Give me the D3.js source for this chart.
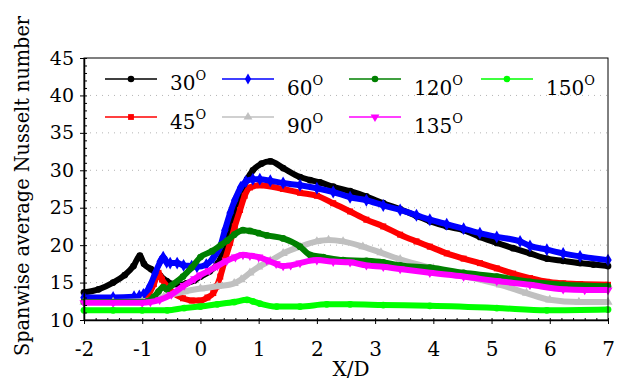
<!DOCTYPE html>
<html>
<head>
<meta charset="utf-8">
<script src="https://cdn.jsdelivr.net/npm/d3@7"></script>
<style>
  body { margin: 0; background: #fff; }
  text { font-family: "DejaVu Serif"; }
</style>
</head>
<body>
<div id="chart"></div>
<script>
// spanwise averaged Nu along X/D, one series per injection angle
var angles = ["30", "45", "60", "90", "120", "135", "150"];
var colors = ["#000000", "#ff0000", "#0000ff", "#c0c0c0", "#008000", "#ff00ff", "#00ff00"];

var x30 = [-2, -1.75, -1.5, -1.3, -1.15, -1.04, -0.97, -0.85, -0.69, -0.58, -0.47, -0.35, -0.24, -0.1, 0, 0.16, 0.3, 0.4, 0.5, 0.6, 0.7, 0.8, 0.9, 1.05, 1.2, 1.42, 1.71, 1.88, 2.05, 2.28, 2.57, 2.85, 3.14, 3.43, 3.71, 3.94, 4.23, 4.52, 4.8, 5.09, 5.37, 5.66, 5.95, 6.23, 6.52, 6.75, 7];
var nu30 = [13.7, 14.1, 15.0, 16.0, 17.2, 18.6, 17.5, 16.8, 15.9, 15.2, 14.8, 14.7, 14.9, 15.3, 15.8, 16.5, 17.6, 19.3, 22.0, 24.6, 26.9, 28.8, 30.0, 30.9, 31.2, 30.3, 29.1, 28.7, 28.4, 27.8, 27.2, 26.5, 25.6, 24.8, 23.9, 23.2, 22.5, 22.0, 21.1, 20.3, 19.6, 18.9, 18.2, 17.9, 17.6, 17.4, 17.2];

var x45 = [-2, -1.5, -1.0, -0.9, -0.8, -0.72, -0.66, -0.55, -0.45, -0.3, -0.15, 0, 0.12, 0.22, 0.28, 0.34, 0.42, 0.51, 0.59, 0.68, 0.76, 0.85, 1.02, 1.42, 1.71, 2.0, 2.28, 2.57, 2.85, 3.14, 3.43, 3.71, 3.94, 4.23, 4.52, 4.8, 5.09, 5.37, 5.66, 5.95, 6.23, 6.52, 7];
var nu45 = [12.7, 12.7, 12.8, 13.3, 14.8, 16.3, 15.4, 14.3, 13.5, 12.9, 12.6, 12.6, 13.0, 13.6, 14.5, 15.8, 18.0, 20.3, 22.5, 24.7, 26.6, 27.7, 28.0, 27.5, 27.0, 26.6, 25.6, 24.5, 23.4, 22.5, 21.4, 20.5, 19.8, 18.9, 18.2, 17.6, 16.9, 16.2, 15.6, 15.1, 14.9, 14.8, 14.7];

var x60 = [-2, -1.5, -1.14, -1.05, -0.98, -0.87, -0.78, -0.69, -0.64, -0.58, -0.52, -0.4, -0.29, -0.15, -0.06, 0.1, 0.22, 0.34, 0.42, 0.51, 0.59, 0.69, 0.78, 0.9, 1.02, 1.2, 1.42, 1.71, 2.0, 2.28, 2.57, 2.85, 3.14, 3.43, 3.71, 3.94, 4.23, 4.52, 4.8, 5.09, 5.49, 5.66, 5.95, 6.23, 6.52, 7];
var nu60 = [13.0, 13.0, 13.1, 13.2, 13.4, 14.5, 16.2, 17.8, 18.4, 17.7, 17.6, 17.6, 17.3, 17.2, 17.1, 17.4, 18.3, 19.8, 22.0, 24.3, 26.0, 27.7, 28.5, 28.8, 28.8, 28.6, 28.3, 28.0, 27.6, 27.1, 26.4, 26.0, 25.3, 24.7, 24.0, 23.4, 22.8, 22.2, 21.6, 21.1, 20.5, 19.9, 19.4, 18.9, 18.5, 18.0];

var x90 = [-2, -1.5, -1.0, -0.8, -0.63, -0.28, 0, 0.29, 0.58, 0.7, 0.85, 1.0, 1.2, 1.42, 1.71, 2.0, 2.2, 2.45, 2.79, 3.1, 3.43, 4.0, 4.58, 5.15, 5.6, 6.0, 6.5, 7];
var nu90 = [12.4, 12.4, 12.5, 12.7, 13.1, 13.8, 14.2, 14.5, 14.9, 15.4, 16.3, 17.1, 17.9, 18.9, 19.8, 20.5, 20.7, 20.5, 19.8, 19.0, 18.1, 16.9, 15.8, 14.7, 13.6, 12.7, 12.4, 12.4];

var x120 = [-2, -1.5, -1.0, -0.91, -0.8, -0.72, -0.64, -0.58, -0.5, -0.3, -0.15, 0, 0.2, 0.35, 0.46, 0.58, 0.73, 0.85, 1.0, 1.14, 1.42, 1.71, 1.88, 2.11, 2.45, 2.85, 3.14, 3.43, 3.94, 4.52, 5.09, 5.66, 6.23, 7];
var nu120 = [12.4, 12.4, 12.4, 12.5, 13.1, 13.8, 14.4, 14.1, 14.6, 15.8, 17.0, 18.4, 19.2, 20.0, 20.6, 21.4, 22.0, 21.9, 21.6, 21.3, 20.9, 19.8, 18.7, 18.4, 18.0, 17.9, 17.7, 17.3, 17.0, 16.3, 15.8, 15.1, 14.7, 14.5];

var x135 = [-2, -1.5, -1.0, -0.86, -0.7, -0.5, -0.28, -0.1, 0, 0.15, 0.29, 0.45, 0.6, 0.73, 0.85, 1.0, 1.14, 1.3, 1.42, 1.55, 1.71, 2.0, 2.28, 2.57, 2.85, 3.14, 3.43, 3.94, 4.52, 5.09, 5.66, 6.23, 6.6, 7];
var nu135 = [12.3, 12.3, 12.3, 12.4, 12.7, 13.4, 14.6, 15.5, 16.0, 16.6, 17.2, 17.9, 18.4, 18.7, 18.6, 18.4, 18.0, 17.5, 17.2, 17.3, 17.6, 18.0, 17.8, 17.7, 17.3, 17.1, 16.8, 16.3, 15.8, 15.2, 14.7, 14.1, 14.0, 14.0];

var x150 = [-2, -1.5, -1.0, -0.57, -0.28, 0, 0.29, 0.58, 0.8, 0.9, 1.02, 1.31, 1.71, 2.17, 2.57, 3.14, 3.94, 5.09, 5.95, 7];
var nu150 = [11.3, 11.3, 11.3, 11.3, 11.6, 11.8, 12.1, 12.4, 12.7, 12.5, 12.2, 11.8, 11.8, 12.1, 12.1, 12.0, 11.9, 11.6, 11.3, 11.4];

var xs = [x30, x45, x60, x90, x120, x135, x150];
var ys = [nu30, nu45, nu60, nu90, nu120, nu135, nu150];

var xTicks = [-2, -1, 0, 1, 2, 3, 4, 5, 6, 7];
var yTicks = [10, 15, 20, 25, 30, 35, 40, 45];

var W = 625, H = 380;
var pLeft = 84, pRight = 608, pTop = 58, pBottom = 320;

var svg = d3.select("#chart").append("svg")
  .attr("width", W)
  .attr("height", H);

var x = d3.scaleLinear().domain([-2, 7]).range([pLeft, pRight]);
var y = d3.scaleLinear().domain([10, 45]).range([pBottom, pTop]);

// dotted horizontal grid
svg.append("g")
  .selectAll("line")
  .data(yTicks.slice(1, -1))
  .enter().append("line")
    .attr("x1", pLeft)
    .attr("x2", pRight)
    .attr("y1", function(d){ return y(d); })
    .attr("y2", function(d){ return y(d); })
    .attr("stroke", "#b4b4b4")
    .attr("stroke-width", 1)
    .attr("stroke-dasharray", "1,5");

// symbol for each series
var symbols = [d3.symbolCircle, d3.symbolSquare, d3.symbolDiamond, d3.symbolTriangle,
               d3.symbolCircle, d3.symbolTriangle, d3.symbolCircle];
var flip = [0, 0, 0, 0, 0, 180, 0];

var line = d3.line().curve(d3.curveMonotoneX);

var plot = svg.append("g");

angles.forEach(function(a, i){
  var pts = xs[i].map(function(v, k){ return [x(v), y(ys[i][k])]; });
  plot.append("path")
    .attr("d", line(pts))
    .attr("fill", "none")
    .attr("stroke", colors[i])
    .attr("stroke-width", 6)
    .attr("stroke-linejoin", "round");

  plot.append("g")
    .selectAll("path")
    .data(pts)
    .enter().append("path")
      .attr("d", d3.symbol().type(symbols[i]).size(i == 2 ? 48 : 36))
      .attr("transform", function(p){ return "translate(" + p[0] + "," + p[1] + ") rotate(" + flip[i] + ")"; })
      .attr("fill", colors[i]);
});

// frame
svg.append("rect")
  .attr("x", pLeft)
  .attr("y", pTop)
  .attr("width", pRight - pLeft)
  .attr("height", pBottom - pTop)
  .attr("fill", "none")
  .attr("stroke", "black")
  .attr("stroke-width", 1);

// x axis: major ticks outside, minor ticks inside
var xAxis = svg.append("g")
  .attr("transform", "translate(0," + pBottom + ")")
  .call(d3.axisBottom(x).tickValues(xTicks).tickFormat(function(d){ return String(d); })
    .tickSizeInner(4).tickSizeOuter(0).tickPadding(18));
xAxis.attr("font-family", null).attr("font-size", null);
xAxis.select(".domain").attr("stroke-width", 1.5);
xAxis.selectAll("text").style("font-size", "20px");

svg.append("g")
  .attr("transform", "translate(0," + pBottom + ")")
  .call(d3.axisBottom(x).tickValues(d3.range(-20, 71, 2).map(function(d){ return d / 10; }))
    .tickFormat("").tickSizeInner(-2).tickSizeOuter(0))
  .select(".domain").remove();

// y axis
var yAxis = svg.append("g")
  .attr("transform", "translate(" + pLeft + ",0)")
  .call(d3.axisLeft(y).tickValues(yTicks).tickSizeInner(4).tickSizeOuter(0).tickPadding(6));
yAxis.attr("font-family", null).attr("font-size", null);
yAxis.select(".domain").attr("stroke-width", 1.5);
yAxis.selectAll("text").style("font-size", "19px");

svg.append("g")
  .attr("transform", "translate(" + pLeft + ",0)")
  .call(d3.axisLeft(y).tickValues(d3.range(10, 46, 1)).tickFormat("").tickSizeInner(-3).tickSizeOuter(0))
  .select(".domain").remove();

// axis titles
svg.append("text")
  .text("X/D")
  .attr("x", 351)
  .attr("y", 376)
  .attr("text-anchor", "middle")
  .style("font-size", "20px");

svg.append("text")
  .text("Spanwise average Nusselt number")
  .attr("transform", "translate(29,186) rotate(-90)")
  .attr("text-anchor", "middle")
  .attr("textLength", 340)
  .attr("lengthAdjust", "spacingAndGlyphs")
  .style("font-size", "20.5px");

// legend, 4 columns x 2 rows, filled column by column
var colX = [105, 222, 349, 481];
var rowY = [79, 117];
var textY = [[90, 129], [95, 133], [95, 133], [95, 133]];

angles.forEach(function(a, i){
  var c = Math.floor(i / 2), r = i % 2;
  var g = svg.append("g");
  g.append("line")
    .attr("x1", colX[c])
    .attr("x2", colX[c] + 52)
    .attr("y1", rowY[r])
    .attr("y2", rowY[r])
    .attr("stroke", colors[i])
    .attr("stroke-width", 1.5);
  g.append("path")
    .attr("d", d3.symbol().type(symbols[i]).size(34))
    .attr("transform", "translate(" + (colX[c] + 26) + "," + rowY[r] + ") rotate(" + flip[i] + ")")
    .attr("fill", colors[i]);
  var t = g.append("text")
    .attr("x", colX[c] + 65)
    .attr("y", textY[c][r])
    .style("font-size", "20px")
    .text(a);
  t.append("tspan")
    .attr("dy", -10)
    .style("font-size", "13px")
    .text("O");
});
</script>
</body>
</html>
